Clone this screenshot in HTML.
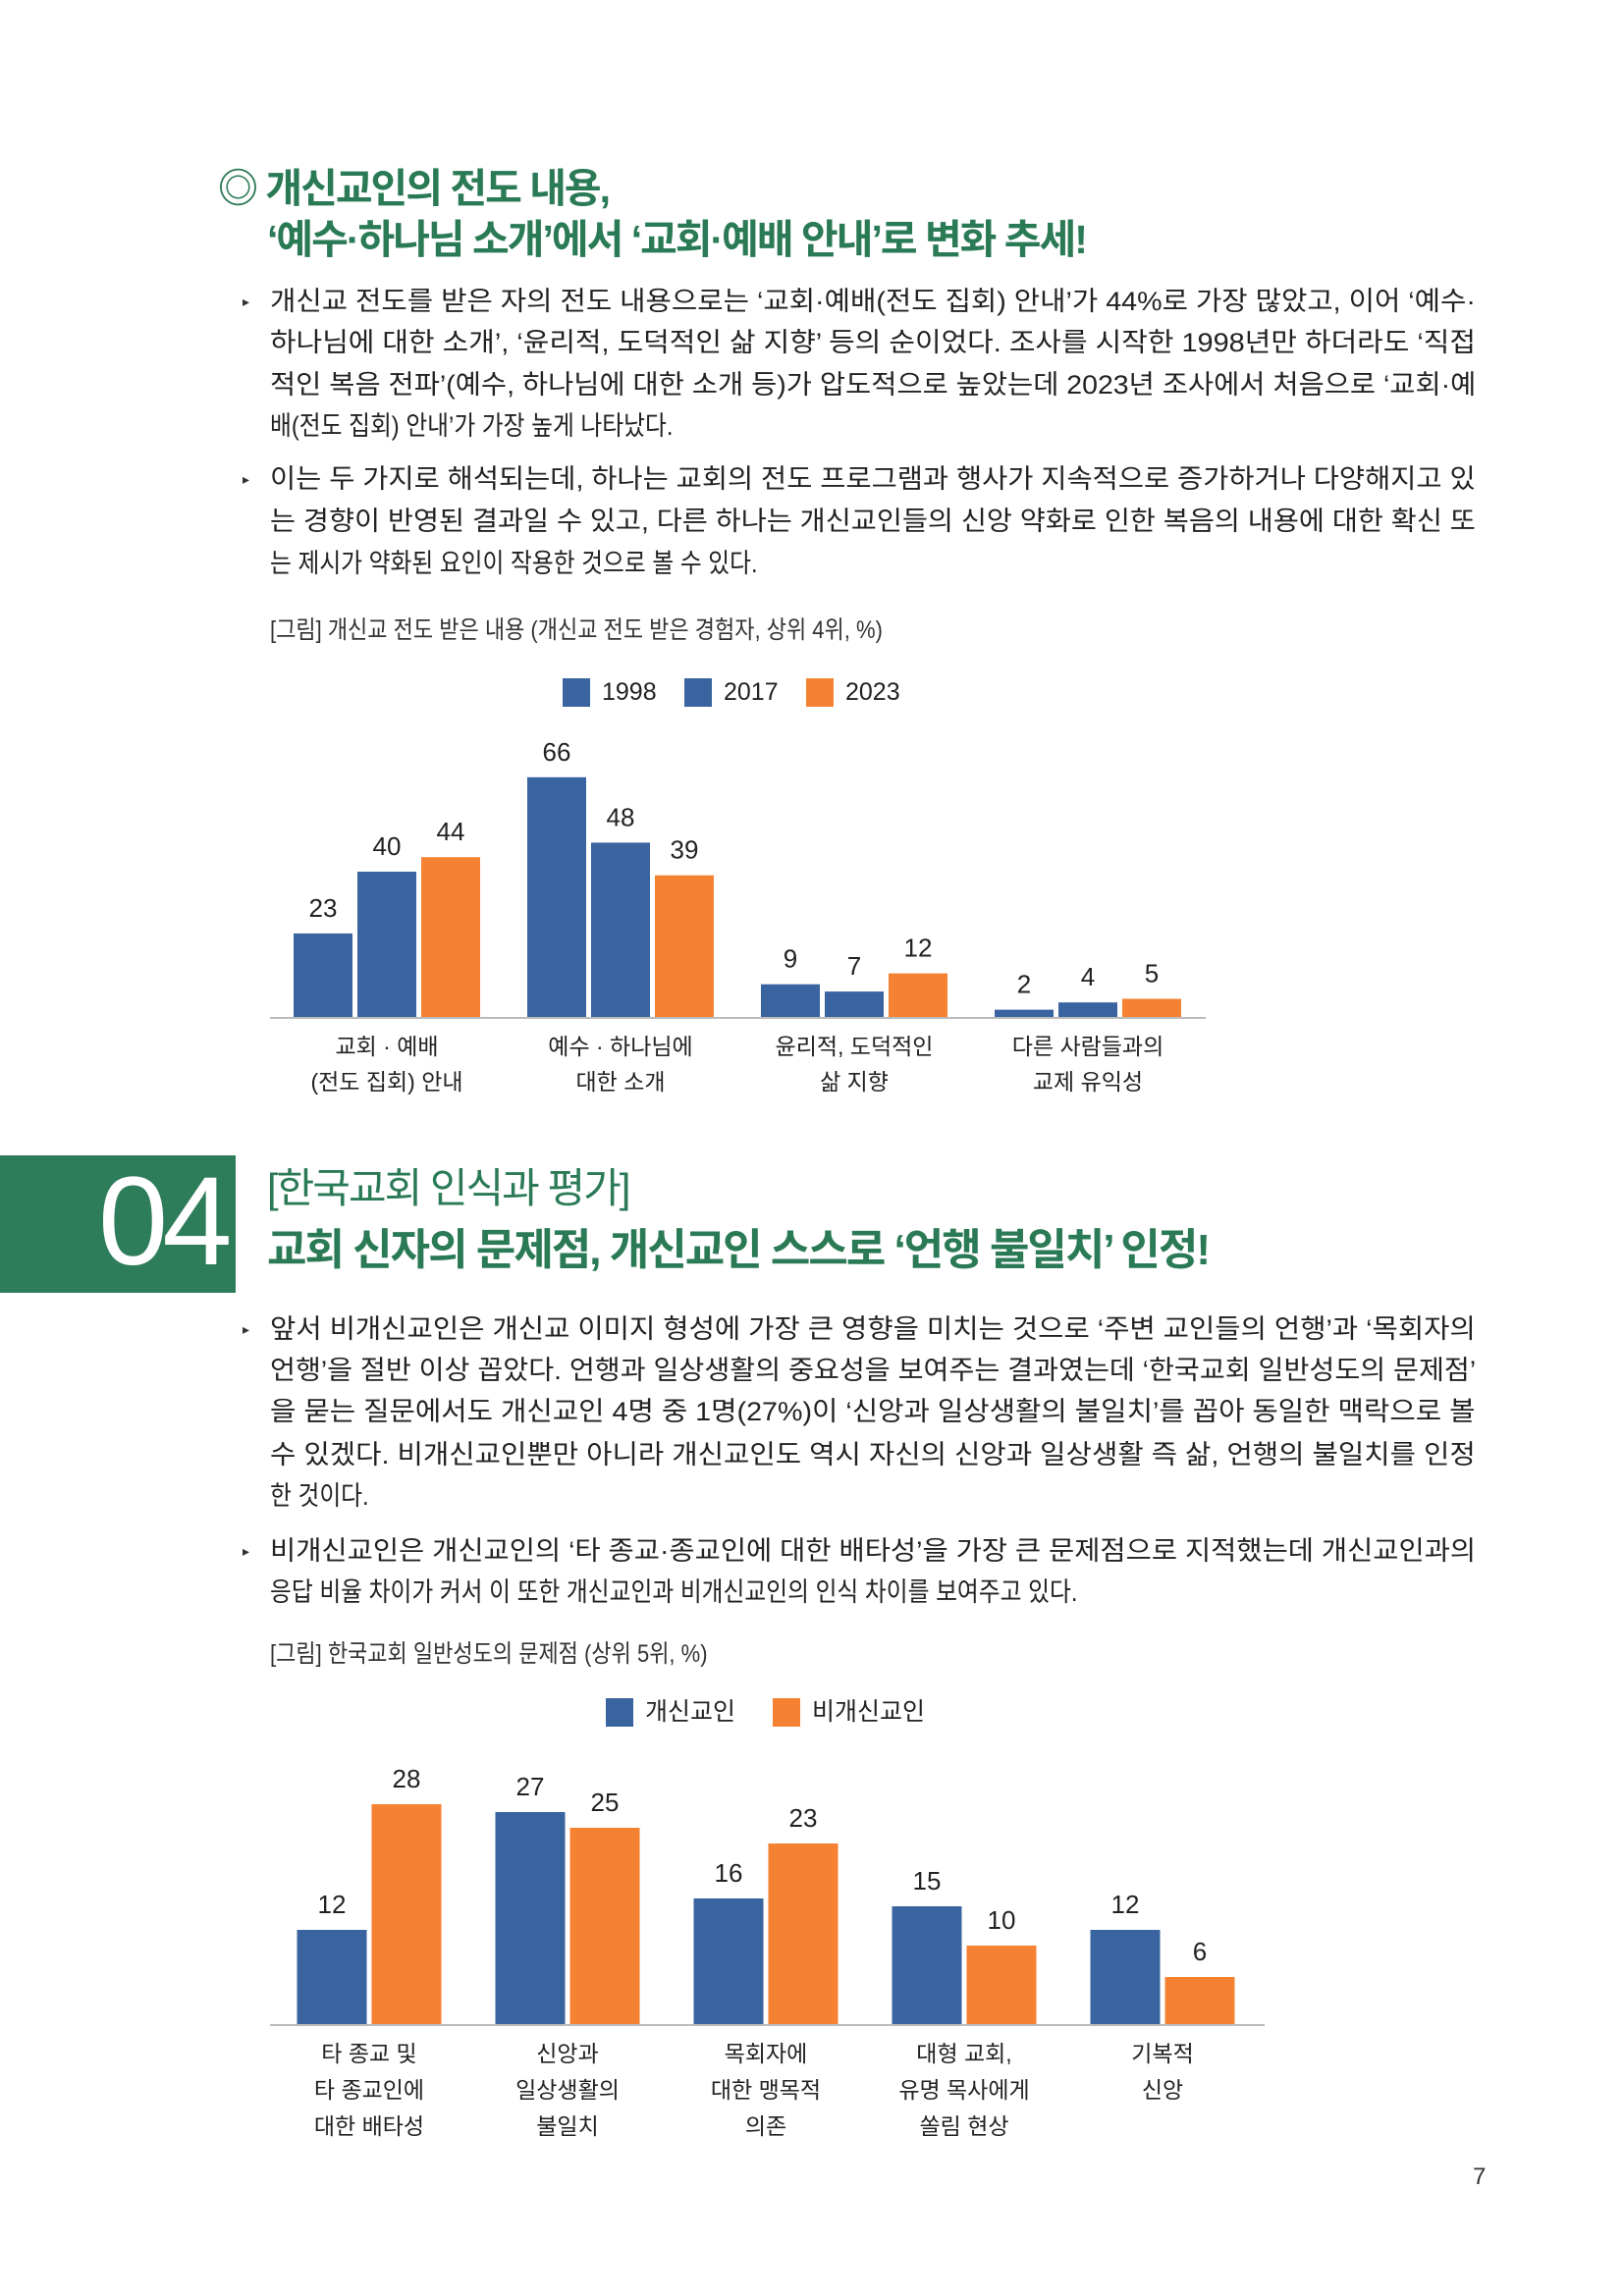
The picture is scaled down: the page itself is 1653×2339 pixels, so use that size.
<!DOCTYPE html>
<html><head><meta charset="utf-8">
<style>
body{margin:0;background:#fff;}
#page{position:relative;width:1653px;height:2339px;overflow:hidden;background:#fff;font-family:"Liberation Sans","Noto Sans CJK KR",sans-serif;color:#222;}
.abs{position:absolute;white-space:nowrap;}
.ttl{color:#2b7a56;font-weight:bold;font-size:41px;letter-spacing:-2px;}
.ln{position:absolute;left:275px;font-size:27px;white-space:nowrap;transform-origin:0 50%;line-height:1;color:#222;}
.bul{position:absolute;left:247px;font-size:14px;color:#333;}
.cap{position:absolute;left:275px;font-size:25px;color:#333;white-space:nowrap;transform-origin:0 50%;line-height:1;}
svg text{font-family:"Liberation Sans","Noto Sans CJK KR",sans-serif;}
</style></head><body>
<div id="page">
<div class="abs ttl" style="left:222px;top:158px;">◎ 개신교인의 전도 내용,</div>
<div class="abs ttl" style="left:272px;top:210px;">‘예수·하나님 소개’에서 ‘교회·예배 안내’로 변화 추세!</div>

<div class="bul" style="top:299px">▸</div>
<div class="ln fit" style="top:294px">개신교 전도를 받은 자의 전도 내용으로는 ‘교회·예배(전도 집회) 안내’가 44%로 가장 많았고, 이어 ‘예수·</div>
<div class="ln fit" style="top:336px">하나님에 대한 소개’, ‘윤리적, 도덕적인 삶 지향’ 등의 순이었다. 조사를 시작한 1998년만 하더라도 ‘직접</div>
<div class="ln fit" style="top:379px">적인 복음 전파’(예수, 하나님에 대한 소개 등)가 압도적으로 높았는데 2023년 조사에서 처음으로 ‘교회·예</div>
<div class="ln" style="top:421px">배(전도 집회) 안내’가 가장 높게 나타났다.</div>
<div class="bul" style="top:480px">▸</div>
<div class="ln fit" style="top:475px">이는 두 가지로 해석되는데, 하나는 교회의 전도 프로그램과 행사가 지속적으로 증가하거나 다양해지고 있</div>
<div class="ln fit" style="top:518px">는 경향이 반영된 결과일 수 있고, 다른 하나는 개신교인들의 신앙 약화로 인한 복음의 내용에 대한 확신 또</div>
<div class="ln" style="top:561px">는 제시가 약화된 요인이 작용한 것으로 볼 수 있다.</div>
<div class="cap" style="top:630px">[그림] 개신교 전도 받은 내용 (개신교 전도 받은 경험자, 상위 4위, %)</div>

<svg id="chart1" class="abs" style="left:0;top:0" width="1653" height="1150"></svg>

<div class="abs" style="left:0;top:1177px;width:240px;height:140px;background:#2e7d5a;"></div>
<div class="abs" style="left:100px;top:1168px;font-size:128px;color:#fff;font-family:'Liberation Sans',sans-serif;letter-spacing:-6px;line-height:1.2;">04</div>
<div class="abs" style="left:272px;top:1186px;font-size:42px;color:#2b7a56;letter-spacing:-2px;line-height:1.2;">[한국교회 인식과 평가]</div>
<div class="abs ttl" style="left:272px;top:1248px;font-size:44px;line-height:1.2;">교회 신자의 문제점, 개신교인 스스로 ‘언행 불일치’ 인정!</div>

<div class="bul" style="top:1346px">▸</div>
<div class="ln fit" style="top:1341px">앞서 비개신교인은 개신교 이미지 형성에 가장 큰 영향을 미치는 것으로 ‘주변 교인들의 언행’과 ‘목회자의</div>
<div class="ln fit" style="top:1383px">언행’을 절반 이상 꼽았다. 언행과 일상생활의 중요성을 보여주는 결과였는데 ‘한국교회 일반성도의 문제점’</div>
<div class="ln fit" style="top:1425px">을 묻는 질문에서도 개신교인 4명 중 1명(27%)이 ‘신앙과 일상생활의 불일치’를 꼽아 동일한 맥락으로 볼</div>
<div class="ln fit" style="top:1469px">수 있겠다. 비개신교인뿐만 아니라 개신교인도 역시 자신의 신앙과 일상생활 즉 삶, 언행의 불일치를 인정</div>
<div class="ln" style="top:1511px">한 것이다.</div>
<div class="bul" style="top:1572px">▸</div>
<div class="ln fit" style="top:1567px">비개신교인은 개신교인의 ‘타 종교·종교인에 대한 배타성’을 가장 큰 문제점으로 지적했는데 개신교인과의</div>
<div class="ln" style="top:1609px">응답 비율 차이가 커서 이 또한 개신교인과 비개신교인의 인식 차이를 보여주고 있다.</div>
<div class="cap" style="top:1673px">[그림] 한국교회 일반성도의 문제점 (상위 5위, %)</div>

<svg id="chart2" class="abs" style="left:0;top:0" width="1653" height="2339"></svg>
<div class="abs" style="left:1500px;top:2204px;font-size:24px;color:#333;">7</div>
</div>
<script>
// Chart 1 data
const c1Categories = [["교회 · 예배","(전도 집회) 안내"],["예수 · 하나님에","대한 소개"],["윤리적, 도덕적인","삶 지향"],["다른 사람들과의","교제 유익성"]];
const c1Series = ["1998","2017","2023"];
const c1V1998 = [23,66,9,2];
const c1V2017 = [40,48,7,4];
const c1V2023 = [44,39,12,5];
// Chart 2 data
const c2Categories = [["타 종교 및","타 종교인에","대한 배타성"],["신앙과","일상생활의","불일치"],["목회자에","대한 맹목적","의존"],["대형 교회,","유명 목사에게","쏠림 현상"],["기복적","신앙"]];
const c2Series = ["개신교인","비개신교인"];
const c2VChristian = [12,27,16,15,12];
const c2VNon = [28,25,23,10,6];

const NS="http://www.w3.org/2000/svg";
const BLUE="#3a64a0", ORANGE="#f58232";
function mk(svg,tag,attrs){const e=document.createElementNS(NS,tag);for(const k in attrs)e.setAttribute(k,attrs[k]);svg.appendChild(e);return e;}

function drawChart(svg,opt){
  const y=v=>opt.base-v*opt.ppu;
  const x=(gi,si)=>opt.center0+gi*opt.gstep-(opt.series.length*opt.bw+(opt.series.length-1)*opt.gap)/2+si*(opt.bw+opt.gap);
  opt.series.forEach((vals,si)=>{
    vals.forEach((v,gi)=>{
      const r=mk(svg,'rect',{x:x(gi,si),y:y(v),width:opt.bw,height:opt.base-y(v),fill:opt.colors[si]});
      
      
      const t=mk(svg,'text',{x:x(gi,si)+opt.bw/2,y:y(v)-26,'text-anchor':'middle','dominant-baseline':'central','font-size':26,fill:'#222'});
      t.textContent=v;
      
      
    });
  });
  const ax=mk(svg,'line',{x1:opt.axX1,x2:opt.axX2,y1:opt.base+1,y2:opt.base+1,stroke:'#bbb','stroke-width':2});
  
  
  opt.cats.forEach((lines,gi)=>{
    lines.forEach((s,li)=>{
      const t=mk(svg,'text',{x:opt.center0+gi*opt.gstep,y:opt.labY0+li*opt.labDy,'text-anchor':'middle','dominant-baseline':'central','font-size':23,fill:'#222'});
      t.textContent=s;
      
      
    });
  });
  opt.legend.forEach((lg,i)=>{
    const r=mk(svg,'rect',{x:lg[0],y:opt.legY-14,width:28,height:29,fill:opt.colors[i]});
    
    
    const t=mk(svg,'text',{x:lg[0]+40,y:opt.legY,'dominant-baseline':'central','font-size':25,fill:'#222'});
    t.textContent=opt.labels[i];
    
    
  });
}
drawChart(document.getElementById('chart1'),{
  series:[c1V1998,c1V2017,c1V2023],names:c1Series,labels:c1Series,colors:[BLUE,BLUE,ORANGE],
  base:1036,ppu:3.70,center0:394,gstep:238,bw:60,gap:5,axX1:275,axX2:1228,
  cats:c1Categories,labY0:1066,labDy:36,legY:705,legend:[[573],[697],[821]]
});
drawChart(document.getElementById('chart2'),{
  series:[c2VChristian,c2VNon],names:c2Series,labels:c2Series,colors:[BLUE,ORANGE],
  base:2062,ppu:8.0,center0:376,gstep:202,bw:71,gap:5,axX1:275,axX2:1288,
  cats:c2Categories,labY0:2092,labDy:37,legY:1744,legend:[[617],[787]]
});
document.querySelectorAll('.fit').forEach(el=>{const w=el.scrollWidth;el.style.transform='scaleX('+(1228/w)+')';});
document.querySelectorAll('.ln:not(.fit),.cap').forEach(el=>{el.style.transform='scaleX(0.88)';});
</script>
</body></html>
